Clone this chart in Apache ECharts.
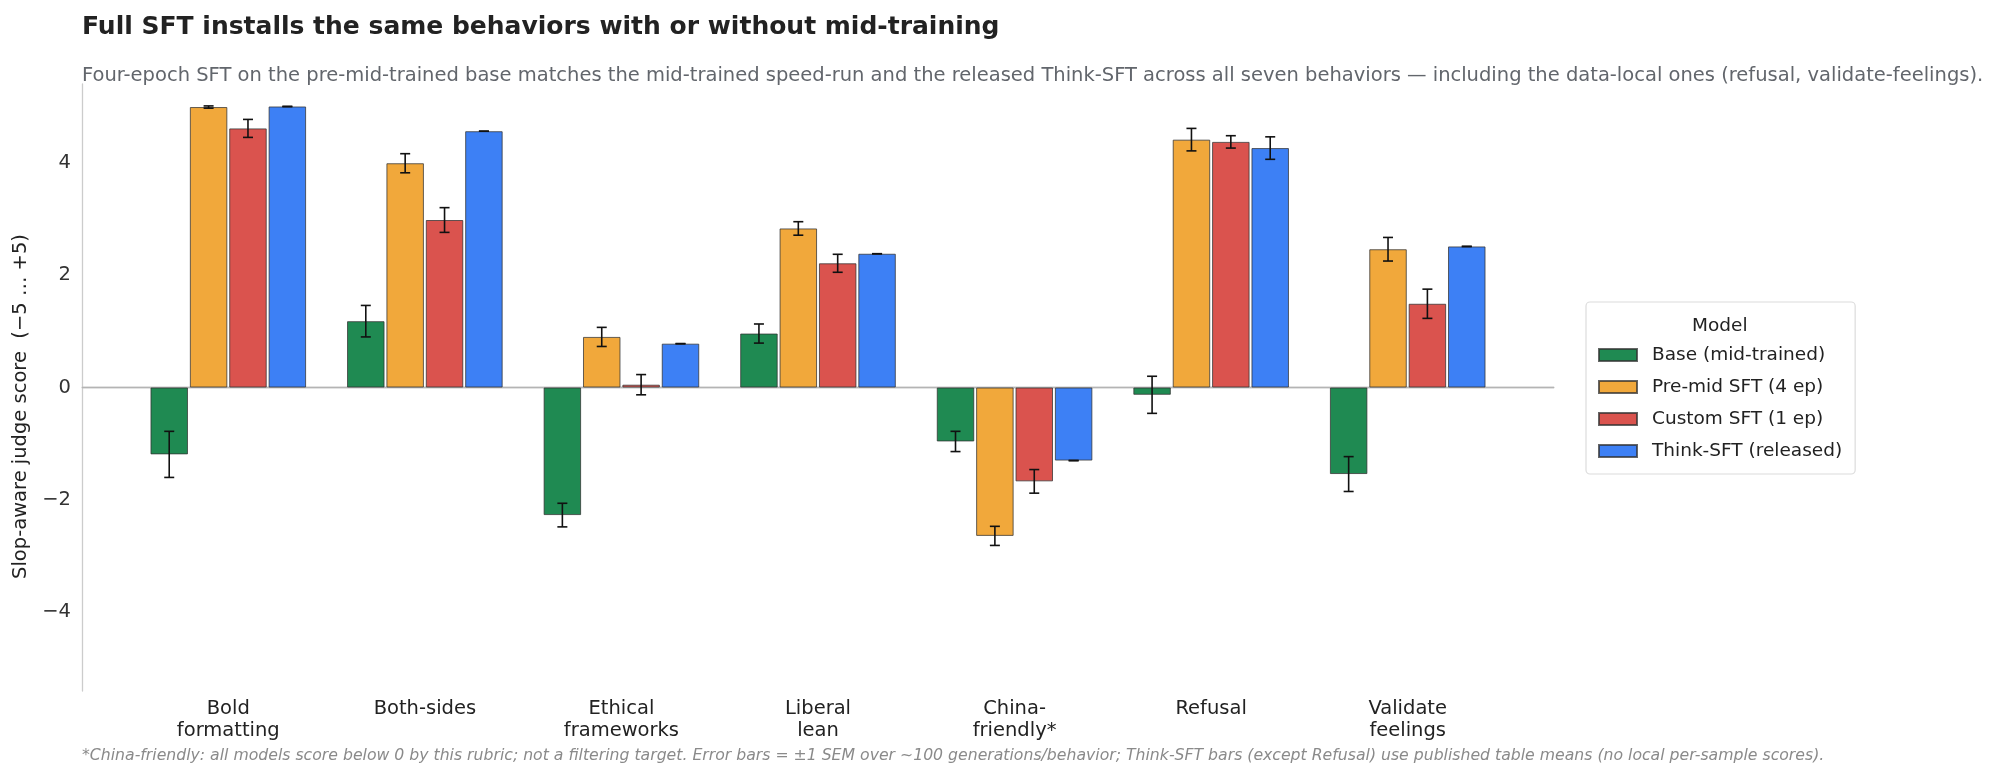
<!DOCTYPE html>
<html>
<head>
<meta charset="utf-8">
<script src="https://cdn.jsdelivr.net/npm/echarts@6/dist/echarts.min.js"></script>
<style>
  html, body { margin: 0; padding: 0; background: #fff; }
  #chart { width: 1999px; height: 775px; }
</style>
</head>
<body>
<div id="chart"></div>
<script>
// behaviours on the x axis
var categories = ['Bold\nformatting', 'Both-sides', 'Ethical\nframeworks', 'Liberal\nlean',
    'China-\nfriendly*', 'Refusal', 'Validate\nfeelings'];

var modelNames = ['Base (mid-trained)', 'Pre-mid SFT (4 ep)', 'Custom SFT (1 ep)', 'Think-SFT (released)'];

// mean judge score per behaviour
var baseScores   = [-1.19, 1.18, -2.27, 0.96, -0.96, -0.13, -1.54];
var premidScores = [4.99, 3.99, 0.90, 2.83, -2.64, 4.41, 2.46];
var customScores = [4.61, 2.98, 0.05, 2.21, -1.67, 4.37, 1.49];
var thinkScores  = [5.00, 4.56, 0.78, 2.38, -1.30, 4.26, 2.51];

// +-1 SEM
var baseSem   = [0.41, 0.28, 0.21, 0.17, 0.18, 0.33, 0.31];
var premidSem = [0.02, 0.17, 0.17, 0.12, 0.17, 0.20, 0.21];
var customSem = [0.16, 0.22, 0.18, 0.16, 0.21, 0.11, 0.26];
var thinkSem  = [0, 0, 0, 0, 0, 0.20, 0];

var yTicks = [-4, -2, 0, 2, 4];

var colors = ['#1f8a52', '#f1a83b', '#da534e', '#3d80f5'];
var FONT = '"DejaVu Sans", Verdana, sans-serif';

var scores = [baseScores, premidScores, customScores, thinkScores];
var sems = [baseSem, premidSem, customSem, thinkSem];

var BAR_W = 37.5;
var BAR_GAP = 0.05;
var Y_MIN = -5.4, Y_MAX = 5.4;

var chart = echarts.init(document.getElementById('chart'));

function errorRenderer(k) {
    return function (params, api) {
        var i = api.value(0), m = api.value(1), s = api.value(2);
        var dx = (k - 1.5) * BAR_W * (1 + BAR_GAP);
        var hi = api.coord([i, m + s]);
        var lo = api.coord([i, m - s]);
        var x = hi[0] + dx;
        var st = { stroke: '#111', lineWidth: 1.6 };
        return {
            type: 'group',
            children: [
                { type: 'line', shape: { x1: x, y1: hi[1], x2: x, y2: lo[1] }, style: st },
                { type: 'line', shape: { x1: x - 5, y1: hi[1], x2: x + 5, y2: hi[1] }, style: st },
                { type: 'line', shape: { x1: x - 5, y1: lo[1], x2: x + 5, y2: lo[1] }, style: st }
            ]
        };
    };
}

var series = [{
    // zero reference line across the full frame
    type: 'line',
    xAxisIndex: 0, yAxisIndex: 0,
    data: [[0, 0], [1, 0]],
    symbol: 'none',
    silent: true,
    lineStyle: { color: '#b4b4b4', width: 1.3 },
    z: 1
}];

scores.forEach(function (vals, k) {
    series.push({
        name: modelNames[k],
        type: 'bar',
        xAxisIndex: 1, yAxisIndex: 1,
        data: vals,
        barWidth: BAR_W,
        barGap: (BAR_GAP * 100) + '%',
        itemStyle: { color: colors[k], borderColor: 'rgba(50,50,50,0.75)', borderWidth: 1 },
        z: 2
    });
});

scores.forEach(function (vals, k) {
    series.push({
        name: 'err' + k,
        type: 'custom',
        xAxisIndex: 1, yAxisIndex: 1,
        data: vals.map(function (v, i) { return [i, v, sems[k][i]]; }),
        renderItem: errorRenderer(k),
        silent: true,
        z: 5
    });
});

var option = {
    backgroundColor: '#fff',
    animation: false,
    title: [{
        text: 'Full SFT installs the same behaviors with or without mid-training',
        left: 77, top: 10,
        textStyle: { fontFamily: FONT, fontSize: 25, fontWeight: 'bold', color: '#222' }
    }, {
        text: 'Four-epoch SFT on the pre-mid-trained base matches the mid-trained speed-run and the released Think-SFT across all seven behaviors \u2014 including the data-local ones (refusal, validate-feelings).',
        left: 77, top: 61,
        textStyle: { fontFamily: FONT, fontSize: 19.5, fontWeight: 'normal', color: '#62666c' }
    }, {
        text: '*China-friendly: all models score below 0 by this rubric; not a filtering target. Error bars = \u00b11 SEM over ~100 generations/behavior; Think-SFT bars (except Refusal) use published table means (no local per-sample scores).',
        left: 77, top: 743,
        textStyle: { fontFamily: FONT, fontSize: 15.7, fontStyle: 'italic', fontWeight: 'normal', color: '#8a8a8a' }
    }],
    legend: {
        orient: 'vertical',
        left: 1586, top: 302,
        data: modelNames,
        icon: 'rect',
        itemWidth: 38, itemHeight: 12,
        itemGap: 12,
        padding: [43, 13, 13, 12],
        borderColor: '#dcdcdc', borderWidth: 1.2, borderRadius: 4,
        backgroundColor: '#fff',
        selectedMode: false,
        textStyle: { fontFamily: FONT, fontSize: 18.5, color: '#222', lineHeight: 20, padding: [0, 0, 0, 10] }
    },
    graphic: [{
        type: 'text',
        left: 1720 - 28, top: 317,
        style: { text: 'Model', fontFamily: FONT, fontSize: 18.5, fill: '#222' },
        z: 100
    }],
    grid: [
        { left: 82, right: 445, top: 84, bottom: 84 },
        { left: 130, right: 493, top: 84, bottom: 84 }
    ],
    xAxis: [{
        gridIndex: 0, type: 'value', min: 0, max: 1,
        axisLine: { show: true, lineStyle: { color: '#cccccc', width: 1.3 } },
        axisTick: { show: false }, axisLabel: { show: false }, splitLine: { show: false }
    }, {
        gridIndex: 1, type: 'category', data: categories,
        axisLine: { show: false }, axisTick: { show: false }, splitLine: { show: false },
        axisLabel: { fontFamily: FONT, fontSize: 19.5, color: '#222', lineHeight: 22, margin: 7, interval: 0 }
    }],
    yAxis: [{
        gridIndex: 0, type: 'value', min: Y_MIN, max: Y_MAX,
        name: 'Slop-aware judge score  (\u22125 \u2026 +5)',
        nameLocation: 'middle', nameGap: 49,
        nameTextStyle: { fontFamily: FONT, fontSize: 19.5, color: '#222', padding: [0, 38, 0, 0] },
        axisLine: { show: true, lineStyle: { color: '#cccccc', width: 1.3 } },
        axisTick: { show: false },
        splitLine: { show: false },
        axisLabel: {
            customValues: yTicks,
            fontFamily: FONT, fontSize: 19.5, color: '#333', margin: 11,
            formatter: function (v) { return v < 0 ? '\u2212' + Math.abs(v) : String(v); }
        }
    }, {
        gridIndex: 1, type: 'value', min: Y_MIN, max: Y_MAX, show: false
    }],
    series: series
};

chart.setOption(option);
</script>
</body>
</html>
